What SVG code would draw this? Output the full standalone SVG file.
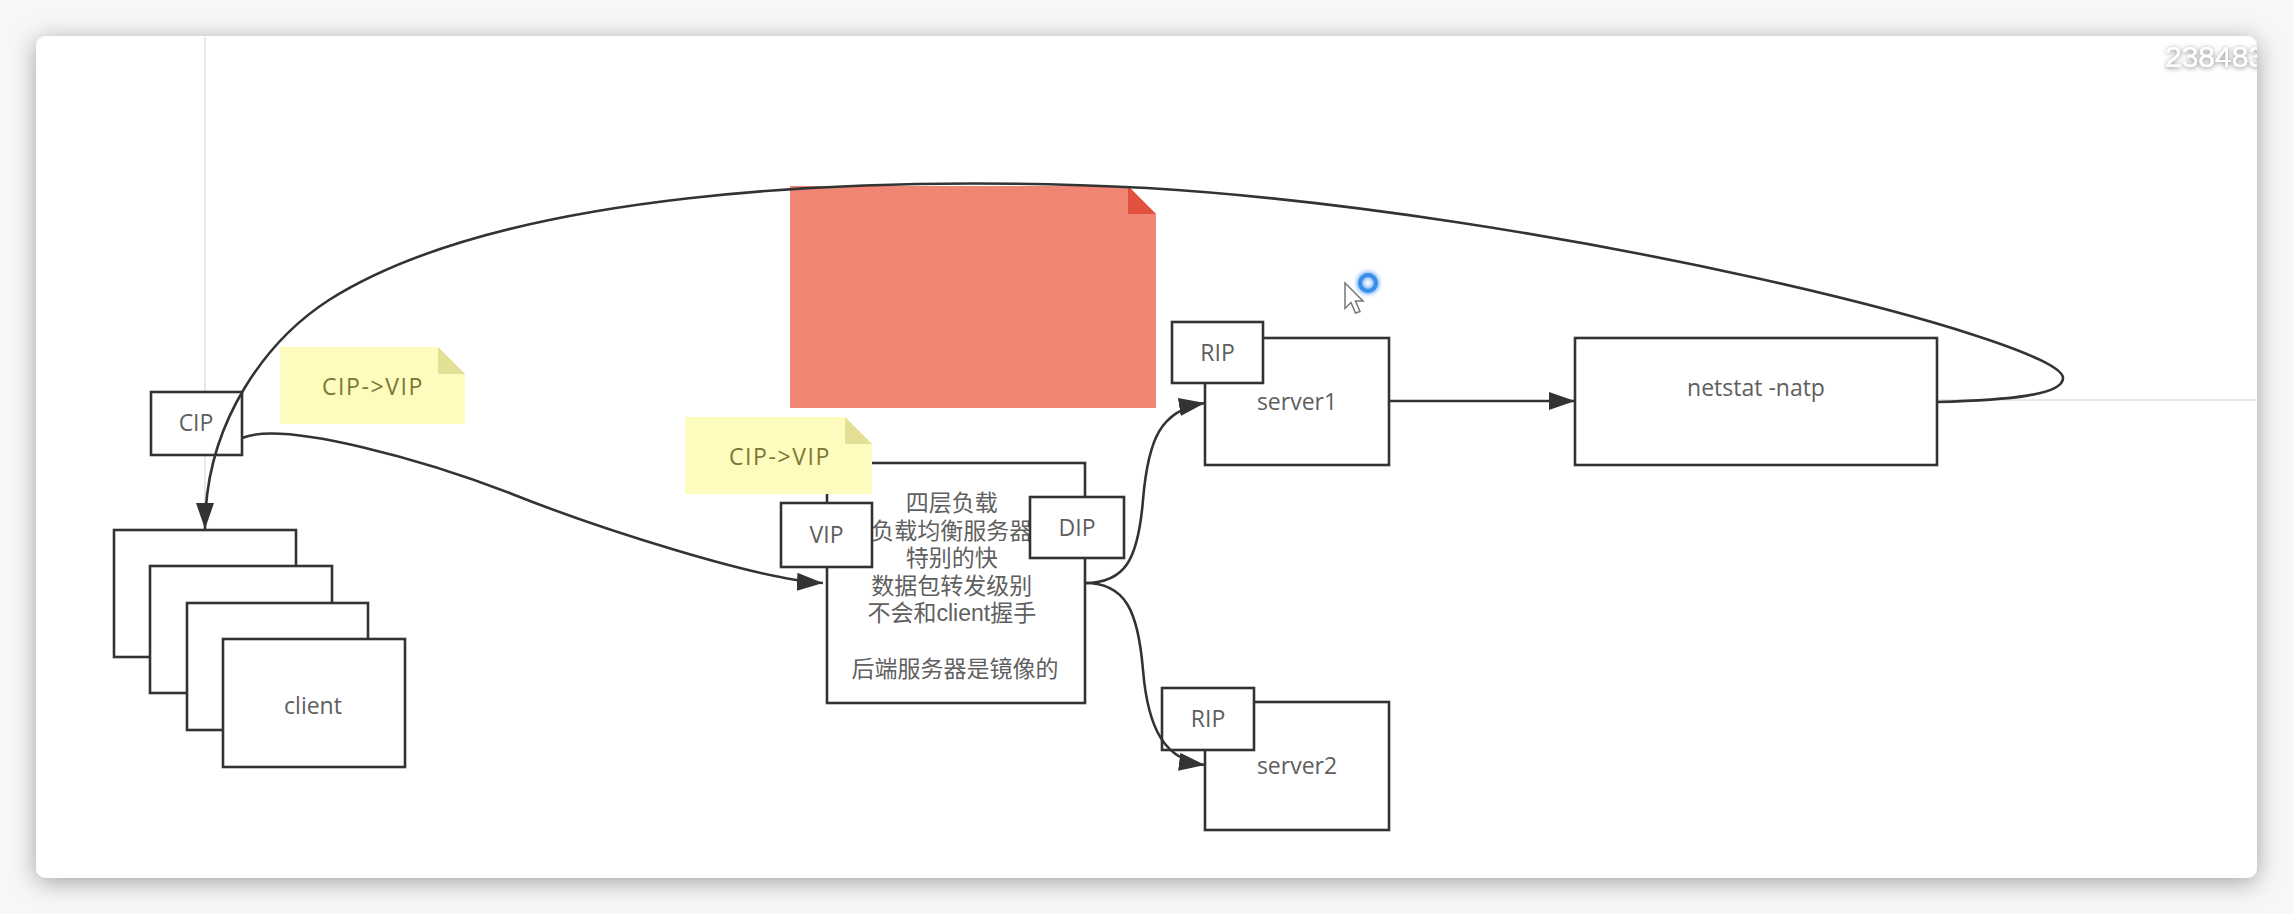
<svg xmlns="http://www.w3.org/2000/svg" width="2294" height="914" viewBox="0 0 2294 914">
<defs>
<style>
.box{fill:#ffffff;stroke:#333333;stroke-width:2.6}
.lbl{font-family:"Open Sans","Noto Sans CJK SC",sans-serif;font-size:23px;fill:#5e5e5e;text-anchor:middle}
.cjk{font-family:"Liberation Sans","Noto Sans CJK SC",sans-serif;font-size:23px;fill:#606060;text-anchor:middle}
.note{fill:#fdfbbe}
.fold{fill:#e3df95}
.ntxt{font-family:"Open Sans","Noto Sans CJK SC",sans-serif;font-size:23px;letter-spacing:1.6px;fill:#7c7634;text-anchor:middle}
.conn{fill:none;stroke:#333333;stroke-width:2.6}
.guide{fill:none;stroke:#e6dede;stroke-width:1.5}
</style>
<marker id="arr" markerWidth="28" markerHeight="18" refX="26" refY="9" orient="auto" markerUnits="userSpaceOnUse">
<path d="M0,0 L26,9 L0,18 Z" fill="#333333"/>
</marker>
<filter id="cardShadow" x="-5%" y="-10%" width="110%" height="120%">
<feDropShadow dx="0" dy="4" stdDeviation="12" flood-color="#000000" flood-opacity="0.35"/>
</filter>
<filter id="wmShadow" x="-20%" y="-40%" width="140%" height="180%">
<feDropShadow dx="0" dy="1" stdDeviation="2.5" flood-color="#000000" flood-opacity="0.55"/>
</filter>
<filter id="glow" x="-50%" y="-50%" width="200%" height="200%">
<feGaussianBlur stdDeviation="2"/>
</filter>
<clipPath id="cardClip"><rect x="36" y="36" width="2221" height="842" rx="10"/></clipPath>
</defs>

<rect x="0" y="0" width="2294" height="914" fill="#f7f7f7"/>
<rect x="36" y="36" width="2221" height="842" rx="10" fill="#ffffff" filter="url(#cardShadow)"/>

<g id="guides">
<line class="guide" x1="205" y1="37" x2="205" y2="529"/>
<line class="guide" x1="1937" y1="400" x2="2257" y2="400"/>
</g>

<g id="client-stack">
<rect class="box" x="114" y="530" width="182" height="127"/>
<rect class="box" x="150" y="566" width="182" height="127"/>
<rect class="box" x="187" y="603" width="181" height="127"/>
<rect class="box" x="223" y="639" width="182" height="128"/>
<text class="lbl" x="313" y="714">client</text>
</g>

<g id="cip">
<rect class="box" x="151" y="392" width="91" height="63"/>
<text class="lbl" x="196" y="431">CIP</text>
</g>

<g id="note-cip-vip-1">
<polygon class="note" points="280,347 438,347 465,374 465,424 280,424"/>
<polygon class="fold" points="438,347 438,374 465,374"/>
<text class="ntxt" x="373" y="395">CIP-&gt;VIP</text>
</g>

<g id="note-red">
<polygon points="790,186 1128,186 1156,214 1156,408 790,408" fill="#ef8572"/>
<polygon points="1128,186 1128,214 1156,214" fill="#e0523e"/>
</g>

<g id="lb">
<rect class="box" x="827" y="463" width="258" height="240"/>
<text class="cjk">
<tspan x="955" y="511">四层负载</tspan>
<tspan x="955" y="538.6">负载均衡服务器</tspan>
<tspan x="955" y="566.2">特别的快</tspan>
<tspan x="955" y="593.8">数据包转发级别</tspan>
<tspan x="955" y="621.4">不会和client握手</tspan>
<tspan x="955" y="676.6">后端服务器是镜像的</tspan>
</text>
</g>

<g id="note-cip-vip-2">
<polygon class="note" points="685,417 845,417 872,444 872,494 685,494"/>
<polygon class="fold" points="845,417 845,444 872,444"/>
<text class="ntxt" x="780" y="465">CIP-&gt;VIP</text>
</g>

<g id="vip">
<rect class="box" x="781" y="503" width="91" height="64"/>
<text class="lbl" x="826.5" y="543">VIP</text>
</g>

<g id="dip">
<rect class="box" x="1030" y="497" width="94" height="61"/>
<text class="lbl" x="1077" y="536">DIP</text>
</g>

<g id="server1">
<rect class="box" x="1205" y="338" width="184" height="127"/>
<text class="lbl" x="1297" y="410">server1</text>
</g>

<g id="rip1">
<rect class="box" x="1172" y="322" width="91" height="61"/>
<text class="lbl" x="1217.5" y="361">RIP</text>
</g>

<g id="netstat">
<rect class="box" x="1575" y="338" width="362" height="127"/>
<text class="lbl" x="1756" y="396">netstat -natp</text>
</g>

<g id="server2">
<rect class="box" x="1205" y="702" width="184" height="128"/>
<text class="lbl" x="1297" y="774">server2</text>
</g>

<g id="rip2">
<rect class="box" x="1162" y="688" width="92" height="62"/>
<text class="lbl" x="1208" y="727">RIP</text>
</g>

<g id="connectors">
<path class="conn" marker-end="url(#arr)" d="M1937,402 C2010,400 2063,395 2063,378 C2063,340 1547,212 1147,188 C847,173 498,193 329,300 C270,338 205,419 205,529"/>
<path class="conn" marker-end="url(#arr)" d="M242,438 C285,420 430,462 512,494 C600,529 760,580 823,583"/>
<path class="conn" marker-end="url(#arr)" d="M1085,583 C1125,583 1138,560 1143,500 C1148,440 1160,410 1205,403"/>
<path class="conn" marker-end="url(#arr)" d="M1085,583 C1125,583 1138,610 1143,670 C1148,730 1165,760 1205,765"/>
<path class="conn" marker-end="url(#arr)" d="M1389,401 L1575,401"/>
</g>

<g id="watermark" clip-path="url(#cardClip)">
<text x="2165" y="67" font-family="Liberation Sans, Arial, sans-serif" font-size="30" fill="#ffffff" filter="url(#wmShadow)">238483</text>
</g>

<g id="cursor">
<circle cx="1368" cy="283" r="8" fill="none" stroke="#5aa6f5" stroke-width="6" filter="url(#glow)"/>
<circle cx="1368" cy="283" r="8" fill="none" stroke="#3a8ee8" stroke-width="4"/>
<polygon points="1345,283 1345,308.5 1351,302.5 1355.5,313 1360,311.5 1355.5,301 1363,301" fill="#ffffff" stroke="#777777" stroke-width="1.5"/>
</g>
</svg>
